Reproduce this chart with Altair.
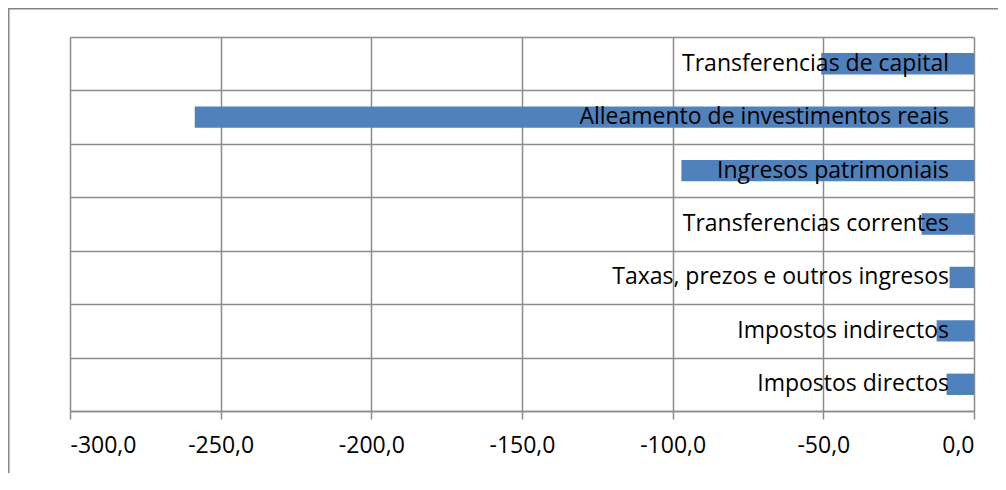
import altair as alt
import pandas as pd

categories = [
    "Transferencias de capital",
    "Alleamento de investimentos reais",
    "Ingresos patrimoniais",
    "Transferencias correntes",
    "Taxas, prezos e outros ingresos",
    "Impostos indirectos",
    "Impostos directos",
]
values = [-50.7, -258.6, -97.1, -17.4, -8.1, -12.4, -9.1]
x_ticks = [-300, -250, -200, -150, -100, -50, 0]

df = pd.DataFrame({"cat": categories, "val": values})

FONT = "Open Sans"
GRID = "#8c8c8c"
W, H = 904, 374

y_enc = alt.Y(
    "cat:N",
    sort=categories,
    scale=alt.Scale(paddingInner=0, paddingOuter=0),
    axis=alt.Axis(
        title=None, labels=False, ticks=False, domain=False,
        grid=True, tickBand="extent", gridColor=GRID, gridWidth=1.5, gridOpacity=1,
    ),
)
x_enc = alt.X(
    "val:Q",
    scale=alt.Scale(domain=[-300, 0], nice=False),
    axis=alt.Axis(
        title=None, values=x_ticks,
        labelExpr="replace(replace(format(datum.value, '.1f'), '.', ','), '\u2212', '-')",
        grid=True, gridColor=GRID, gridWidth=1.5, gridOpacity=1,
        domainColor=GRID, domainWidth=1.5, tickColor=GRID, tickWidth=1.5, tickSize=8,
        labelFont=FONT, labelFontSize=23, labelColor="#000000", labelPadding=15,
    ),
)

bars = alt.Chart(df).mark_bar(color="#4F81BD", height={"band": 0.4}).encode(x=x_enc, y=y_enc)

labels = alt.Chart(df).mark_text(
    align="right", baseline="middle", dx=-25, font=FONT, fontSize=23, color="#000000"
).encode(x=alt.datum(0), y=alt.Y("cat:N", sort=categories), text="cat:N")

frame = alt.Chart(pd.DataFrame({"a": [0]})).mark_rect(
    fill=None, stroke="#868686", strokeWidth=1.5
).encode(
    x=alt.value(-61.25), x2=alt.value(1100), y=alt.value(-28.25), y2=alt.value(600)
)

chart = alt.layer(frame, bars, labels).properties(
    width=W, height=H,
    autosize=alt.AutoSizeParams(type="none"),
    padding={"left": 62, "top": 29, "right": 24, "bottom": 62},
).configure_view(stroke=GRID, strokeWidth=1.5).configure(background="white")

chart.save("out.html", embed_options={"renderer": "svg", "actions": False})
